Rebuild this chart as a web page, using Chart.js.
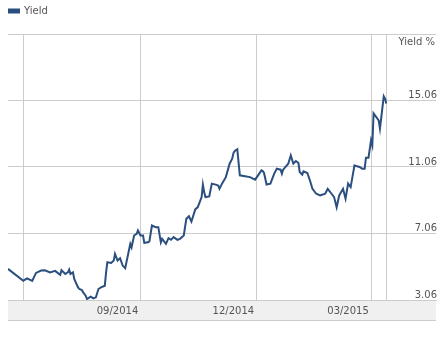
<!DOCTYPE html>
<html>
<head>
<meta charset="utf-8">
<script src="https://cdn.jsdelivr.net/npm/chart.js@4.4.1/dist/chart.umd.min.js"></script>
<style>
  html, body { margin: 0; padding: 0; background: #fff; }
  #wrap { width: 446px; height: 341px; }
</style>
</head>
<body>
<div id="wrap"><canvas id="myChart" width="446" height="341"></canvas></div>
<script>
var seriesName = "Yield";
var axisTitle = "Yield %";

var dates = [
  "2014-05-20", "2014-06-01", "2014-06-04", "2014-06-08", "2014-06-11", "2014-06-15", "2014-06-18",
  "2014-06-22", "2014-06-26", "2014-06-28", "2014-06-30", "2014-07-01", "2014-07-04", "2014-07-06",
  "2014-07-07", "2014-07-08", "2014-07-10", "2014-07-11", "2014-07-14", "2014-07-15", "2014-07-17",
  "2014-07-18", "2014-07-20", "2014-07-21", "2014-07-23", "2014-07-24", "2014-07-26", "2014-07-28",
  "2014-07-30", "2014-08-01", "2014-08-04", "2014-08-05", "2014-08-06", "2014-08-09", "2014-08-11",
  "2014-08-12", "2014-08-14", "2014-08-16", "2014-08-18", "2014-08-20", "2014-08-24", "2014-08-25",
  "2014-08-27", "2014-08-29", "2014-08-30", "2014-09-01", "2014-09-03", "2014-09-04", "2014-09-07",
  "2014-09-08", "2014-09-10", "2014-09-13", "2014-09-15", "2014-09-17", "2014-09-18", "2014-09-21",
  "2014-09-23", "2014-09-25", "2014-09-27", "2014-09-30", "2014-10-02", "2014-10-05", "2014-10-07",
  "2014-10-09", "2014-10-11", "2014-10-14", "2014-10-16", "2014-10-19", "2014-10-20", "2014-10-21",
  "2014-10-22", "2014-10-25", "2014-10-27", "2014-10-30", "2014-11-01", "2014-11-02", "2014-11-04",
  "2014-11-07", "2014-11-10", "2014-11-12", "2014-11-13", "2014-11-14", "2014-11-16", "2014-11-18",
  "2014-11-22", "2014-11-26", "2014-11-30", "2014-12-05", "2014-12-06", "2014-12-07", "2014-12-09",
  "2014-12-12", "2014-12-15", "2014-12-17", "2014-12-20", "2014-12-21", "2014-12-22", "2014-12-26",
  "2014-12-28", "2014-12-30", "2015-01-01", "2015-01-03", "2015-01-04", "2015-01-06", "2015-01-07",
  "2015-01-10", "2015-01-12", "2015-01-14", "2015-01-17", "2015-01-20", "2015-01-24", "2015-01-26",
  "2015-01-29", "2015-01-31", "2015-02-02", "2015-02-04", "2015-02-07", "2015-02-09", "2015-02-11",
  "2015-02-13", "2015-02-16", "2015-02-18", "2015-02-20", "2015-02-22", "2015-02-24", "2015-02-25",
  "2015-02-27", "2015-03-01", "2015-03-02", "2015-03-03", "2015-03-05", "2015-03-07", "2015-03-08",
  "2015-03-11", "2015-03-12", "2015-03-13"
];

var yields = [
  4.93, 4.22, 4.36, 4.21, 4.69, 4.83, 4.85,
  4.72, 4.81, 4.69, 4.57, 4.85, 4.63, 4.72,
  4.89, 4.63, 4.72, 4.33, 3.82, 3.72, 3.66,
  3.52, 3.32, 3.12, 3.22, 3.26, 3.16, 3.22,
  3.72, 3.82, 3.92, 4.72, 5.33, 5.29, 5.43,
  5.83, 5.43, 5.57, 5.13, 4.97, 6.44, 6.23,
  6.94, 7.04, 7.24, 6.94, 6.94, 6.50, 6.53,
  6.58, 7.54, 7.44, 7.44, 6.53, 6.74, 6.44,
  6.78, 6.68, 6.84, 6.68, 6.74, 6.94, 7.95,
  8.10, 7.78, 8.51, 8.65, 9.25, 10.00, 9.55,
  9.25, 9.29, 10.06, 10.00, 9.95, 9.75, 10.06,
  10.45, 11.26, 11.56, 11.90, 12.02, 12.13, 10.56,
  10.51, 10.45, 10.30, 10.86, 10.82, 10.70, 10.01,
  10.06, 10.66, 10.96, 10.90, 10.66, 10.90, 11.26,
  11.76, 11.26, 11.42, 11.30, 10.76, 10.60, 10.80,
  10.70, 10.26, 9.75, 9.45, 9.35, 9.45, 9.75,
  9.45, 9.25, 8.64, 9.35, 9.75, 9.15, 10.06,
  9.85, 11.16, 11.10, 11.06, 10.96, 10.96, 11.62,
  11.62, 12.67, 12.37, 14.28, 14.07, 13.87, 13.37,
  15.32, 15.18, 14.88
];

// x grid lines and their labels
var xTickDates = ["2014-06-01", "2014-09-01", "2014-12-01", "2015-03-01", "2015-03-13"];
var xTickLabels = ["", "09/2014", "12/2014", "03/2015", ""];
var xRange = ["2014-05-20", "2015-04-21"];

// y grid lines and their labels
var yTicks = [3.06, 7.06, 11.06, 15.06, 19.06];
var yTickLabels = ["3.06", "7.06", "11.06", "15.06", ""];

var lineColor = "#2b4f7e";
var textColor = "#555555";
var gridColor = "#cccccc";
var fontFamily = "'DejaVu Sans', Verdana, sans-serif";

function toDay(s) {
  return Date.parse(s + "T00:00:00Z") / 86400000;
}

var points = dates.map(function (d, i) {
  return { x: toDay(d), y: yields[i] };
});

// grey band behind the date labels, "Yield %" caption, taller legend box
var extras = {
  id: "extras",
  beforeInit: function (chart) {
    var fit = chart.legend.fit;
    chart.legend.fit = function () {
      fit.call(this);
      this.height = 28;
    };
  },
  beforeDraw: function (chart) {
    var ctx = chart.ctx, a = chart.chartArea;
    ctx.save();
    ctx.fillStyle = "#f0f0f1";
    ctx.fillRect(a.left, a.bottom, a.right - a.left, 21);
    ctx.fillStyle = gridColor;
    ctx.fillRect(a.left, a.bottom + 20, a.right - a.left, 1);
    ctx.restore();
  },
  afterDraw: function (chart) {
    var ctx = chart.ctx, a = chart.chartArea;
    ctx.save();
    ctx.font = "10px " + fontFamily;
    ctx.fillStyle = textColor;
    ctx.textAlign = "right";
    ctx.textBaseline = "middle";
    ctx.fillText(axisTitle, a.right - 1, a.top + 8);
    ctx.restore();
  }
};

var config = {
  type: "line",
  data: {
    datasets: [{
      label: seriesName,
      data: points,
      borderColor: lineColor,
      backgroundColor: lineColor,
      borderWidth: 2,
      pointRadius: 0,
      tension: 0,
      fill: false
    }]
  },
  options: {
    responsive: false,
    animation: false,
    layout: { padding: { left: 8, right: 8, top: 6, bottom: 19 } },
    plugins: {
      tooltip: { enabled: false },
      legend: {
        position: "top",
        align: "start",
        labels: {
          boxWidth: 11,
          boxHeight: 3,
          padding: 0,
          color: textColor,
          font: { family: fontFamily, size: 10 }
        }
      }
    },
    scales: {
      x: {
        type: "linear",
        min: toDay(xRange[0]),
        max: toDay(xRange[1]),
        afterBuildTicks: function (scale) {
          scale.ticks = xTickDates.map(function (d) { return { value: toDay(d) }; });
        },
        grid: { color: gridColor, drawTicks: false },
        border: { display: true, color: gridColor },
        ticks: {
          padding: 5,
          labelOffset: -23,
          maxRotation: 0,
          autoSkip: false,
          color: textColor,
          font: { family: fontFamily, size: 10 },
          callback: function (value, index) { return xTickLabels[index]; }
        }
      },
      y: {
        position: "right",
        min: yTicks[0],
        max: yTicks[yTicks.length - 1],
        afterBuildTicks: function (scale) {
          scale.ticks = yTicks.map(function (v) { return { value: v }; });
        },
        grid: { color: gridColor, drawTicks: false },
        border: { display: false },
        ticks: {
          mirror: true,
          padding: 1,
          labelOffset: -5,
          color: textColor,
          font: { family: fontFamily, size: 10 },
          callback: function (value, index) { return yTickLabels[index]; }
        }
      }
    }
  },
  plugins: [extras]
};

var myChart = {};

function initChart() {
  var ctx = document.getElementById("myChart").getContext("2d");
  myChart = new Chart(ctx, config);
}

initChart();
</script>
</body>
</html>
